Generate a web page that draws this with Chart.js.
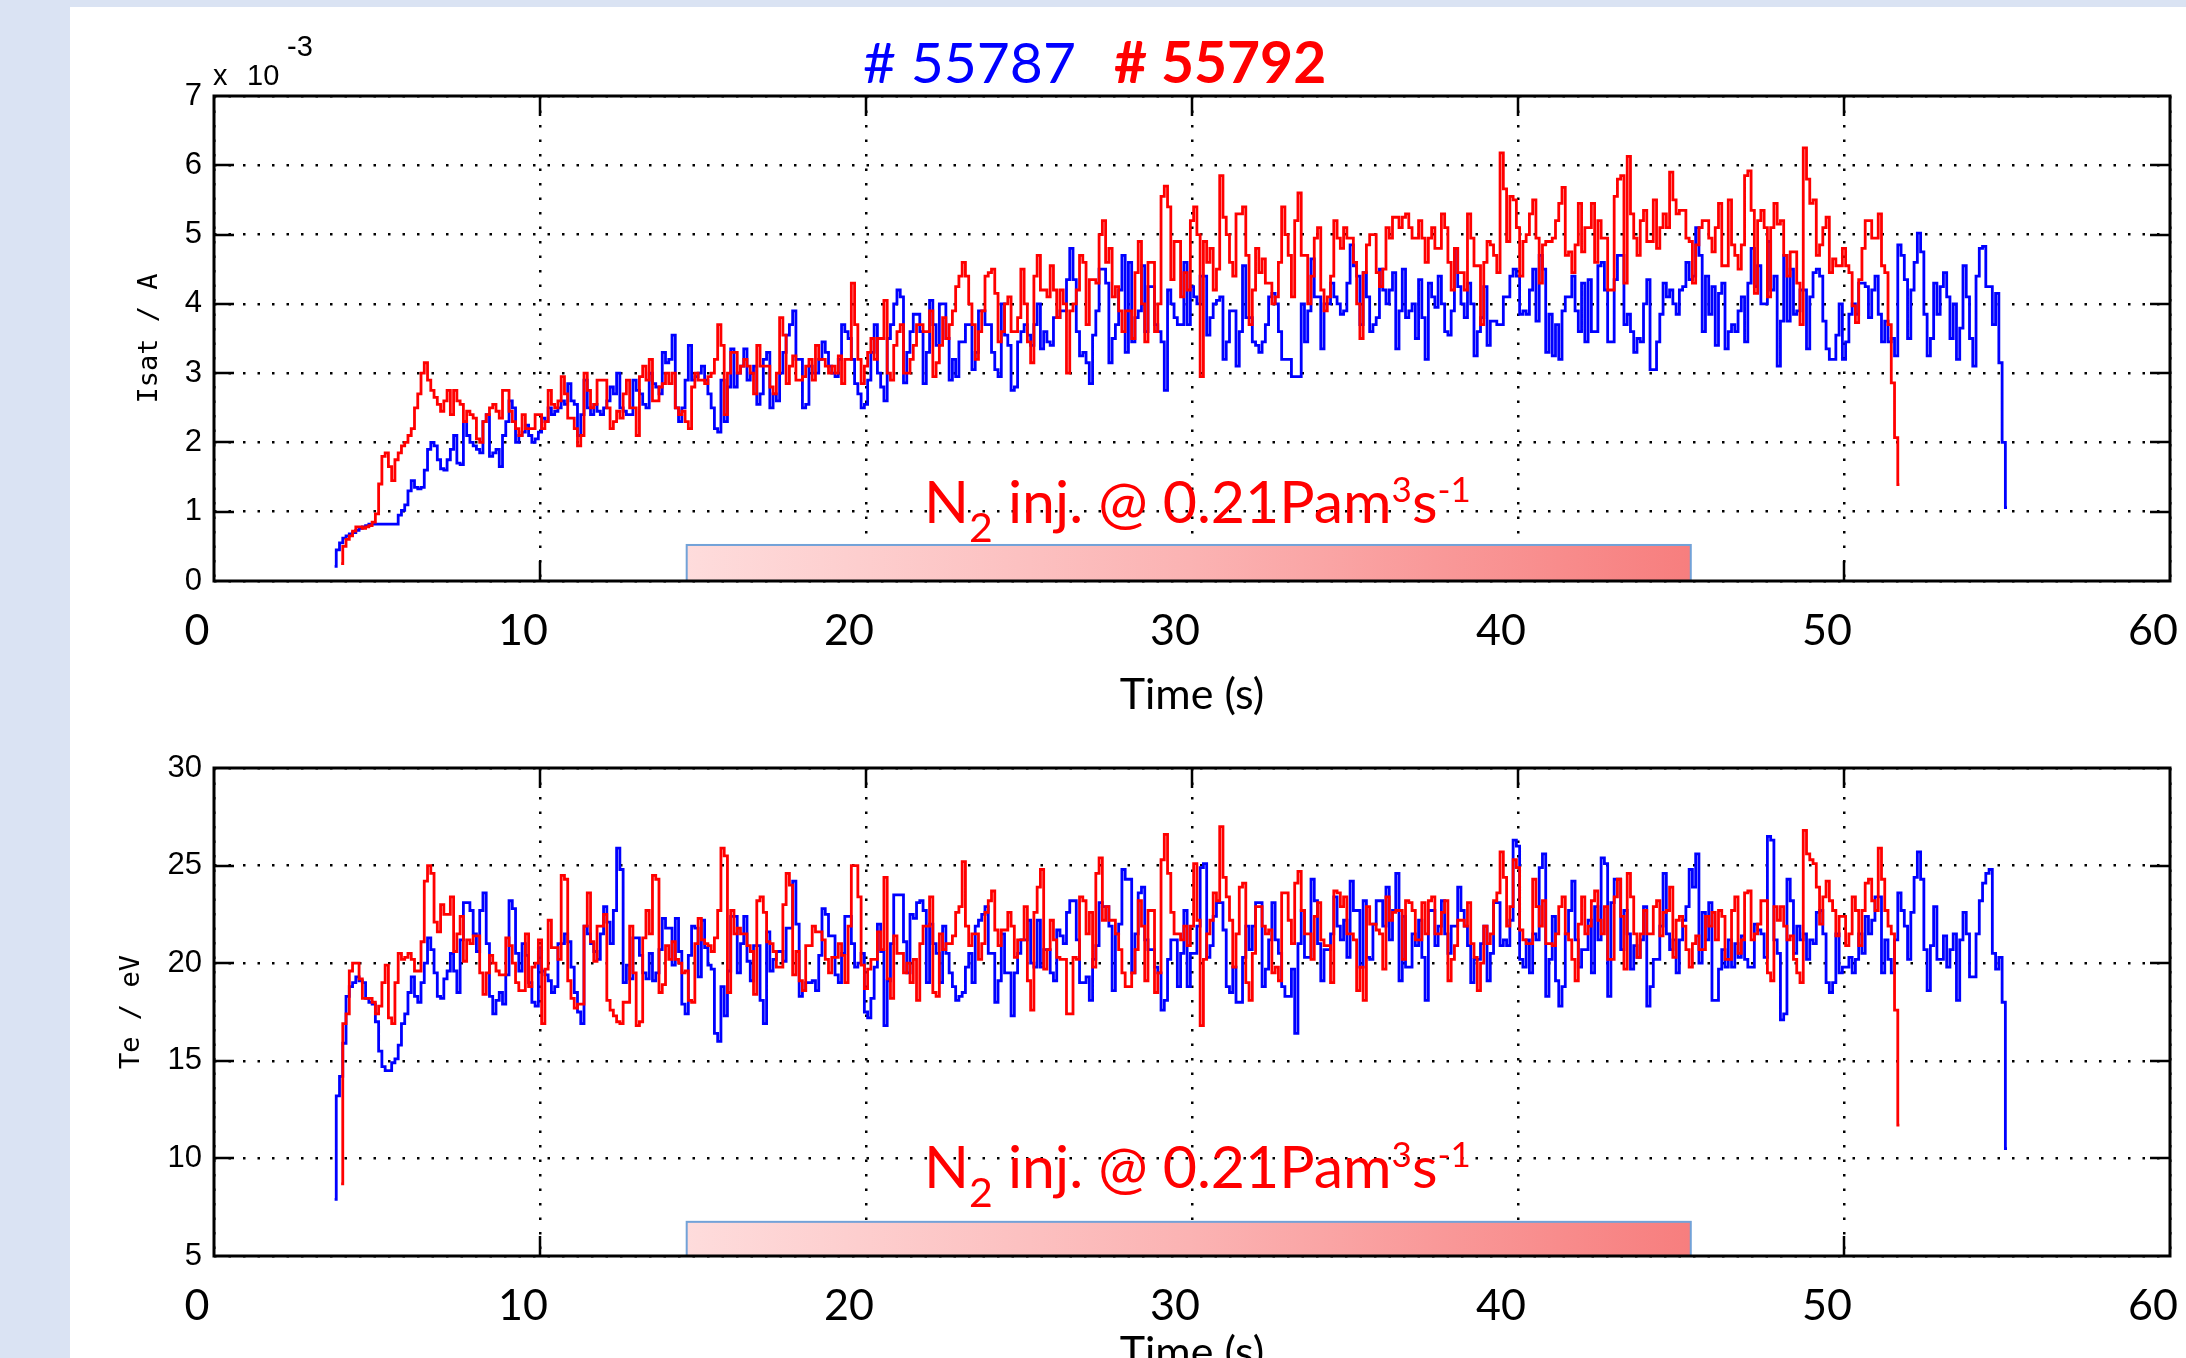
<!DOCTYPE html>
<html>
<head>
<meta charset="utf-8">
<title>Isat and Te, shots 55787 / 55792</title>
<script src="https://cdn.jsdelivr.net/npm/chart.js@4.4.1/dist/chart.umd.min.js"></script>
<style>
  html, body { margin:0; padding:0; width:2186px; height:1358px; overflow:hidden; background:#dae3f3; }
  #panel { position:absolute; left:70px; top:7px; width:2116px; height:1351px; background:#ffffff; }
  canvas { position:absolute; left:0; }
  #cA { top:0; width:2186px; height:740px; }
  #cB { top:672px; width:2186px; height:740px; }
  .ppt { position:absolute; font-family:Lato, "Open Sans", sans-serif; line-height:1; white-space:nowrap; z-index:5; }
  .title { top:33px; font-size:57px; }
  .bold { font-weight:700; }
  .ann { left:924px; font-size:59px; color:#ff0000; }
  .ann .sub { font-size:41px; vertical-align:-19px; line-height:0; }
  .ann .sup { font-size:35px; vertical-align:21px; line-height:0; }
</style>
</head>
<body>
<div id="panel"></div>
<canvas id="cA" width="2186" height="740"></canvas>
<canvas id="cB" width="2186" height="740"></canvas>
<div class="ppt title" style="left:863px;color:#0000ff"># 55787</div>
<div class="ppt title bold" style="left:1114px;color:#ff0000"># 55792</div>
<div class="ppt ann" style="top:471px">N<span class="sub">2</span> inj. @ 0.21Pam<span class="sup">3</span>s<span class="sup">-1</span></div>
<div class="ppt ann" style="top:1136px">N<span class="sub">2</span> inj. @ 0.21Pam<span class="sup">3</span>s<span class="sup">-1</span></div>
<script>
// ---- sampling ----
const DT = 0.1;          // s between samples
const T0_BLUE = 3.7;     // first sample of shot #55787 (s)
const T0_RED = 3.9;      // first sample of shot #55792 (s)

// ---- tick labels ----
const X_TICKS = [0, 10, 20, 30, 40, 50, 60];
const ISAT_TICKS = [0, 1, 2, 3, 4, 5, 6, 7];
const TE_TICKS = [5, 10, 15, 20, 25, 30];

// ---- N2 injection window (s) and bar heights (axis units) ----
const N2_START = 14.5;
const N2_END = 45.3;
const ISAT_BAR_TOP = 0.52;
const TE_BAR_TOP = 6.75;

// ---- Isat (x 1e-3 A), shot #55787 (blue) ----
const isatBlue = [
0.21,0.45,0.55,
0.62,0.65,0.68,0.70,0.73,0.76,0.78,0.80,0.82,0.82,
0.82,0.82,0.82,0.82,0.82,0.82,0.82,0.95,1.02,1.10,
1.30,1.45,1.35,1.33,1.35,1.60,1.90,2.00,1.95,1.75,
1.62,1.60,1.75,1.90,2.10,1.70,1.68,2.30,2.10,2.00,
1.95,1.90,1.85,2.30,2.40,1.80,1.85,1.90,1.65,2.10,
2.30,2.60,2.50,2.00,2.10,2.15,2.25,2.10,2.00,2.05,
2.15,2.35,2.30,2.50,2.40,2.45,2.50,2.60,2.55,2.85,
2.60,2.55,2.10,2.40,2.90,2.50,2.40,2.55,2.45,2.40,
2.50,2.60,2.80,2.70,3.00,2.50,2.45,2.40,2.40,2.90,
2.75,2.70,2.55,2.50,3.00,2.85,2.80,2.70,3.30,3.15,
3.20,3.55,2.50,2.30,2.50,2.90,3.40,2.90,2.95,3.00,
3.10,2.90,2.70,2.50,2.20,2.15,2.90,2.30,2.80,3.35,
2.80,3.00,3.10,3.35,2.90,3.00,3.10,2.55,2.70,3.20,
3.30,2.50,2.70,2.60,3.00,3.30,3.55,3.70,3.90,3.20,
3.20,2.50,2.55,3.10,3.00,3.00,3.20,3.45,3.30,3.10,
3.00,2.95,3.20,3.70,3.60,3.50,3.20,2.85,2.70,2.50,
2.55,2.90,3.30,3.70,3.00,2.80,2.60,3.50,3.70,4.00,
4.20,4.10,2.86,3.30,3.60,3.85,3.85,3.60,2.85,3.30,
4.05,3.70,3.40,4.00,4.00,3.50,2.90,3.20,2.95,3.45,
3.45,3.70,3.70,3.05,3.30,3.90,3.90,3.70,3.70,3.30,
3.05,2.95,4.00,3.55,3.40,2.75,2.80,3.45,3.60,3.70,
3.55,3.40,3.70,4.00,3.35,3.60,3.45,3.40,3.80,3.80,
3.90,3.90,4.35,4.80,4.35,3.60,3.25,3.30,3.15,2.85,
3.55,3.90,4.50,4.50,4.30,3.15,3.50,3.70,4.20,4.70,
3.30,4.60,3.45,3.80,3.90,4.55,3.60,4.25,4.25,3.70,
3.60,3.45,2.75,4.20,4.00,3.80,3.70,3.70,4.60,3.70,
4.25,4.10,4.00,4.40,4.40,3.55,3.80,4.00,4.05,4.10,
3.20,3.45,3.90,3.90,3.10,3.60,4.55,3.80,3.80,3.45,
3.40,3.30,3.45,3.70,4.10,4.15,4.00,3.60,3.20,3.20,
3.20,2.95,2.95,2.95,4.00,3.45,3.90,4.65,4.10,4.10,
3.35,4.00,4.00,4.30,4.10,4.00,3.85,3.90,4.30,4.85,
4.55,4.40,3.70,4.45,4.10,3.60,3.70,3.80,4.50,4.20,
4.00,4.20,4.45,3.35,3.90,4.50,3.80,3.90,4.00,3.50,
4.35,3.80,3.20,4.30,4.10,3.95,4.40,4.00,3.60,3.55,
3.90,4.80,4.25,4.00,3.80,4.30,4.00,3.25,3.60,3.80,
4.25,3.40,3.75,3.75,3.70,3.70,4.10,4.10,4.40,4.50,
4.40,3.85,3.90,3.85,4.20,4.50,3.75,4.70,4.50,3.30,
3.85,3.25,3.70,3.20,3.90,4.10,4.10,4.40,3.90,3.60,
4.30,3.45,4.35,3.60,3.60,4.55,4.60,4.20,3.45,3.45,
4.35,4.70,4.70,3.70,3.85,3.60,3.30,3.50,3.45,4.00,
4.35,3.05,3.05,3.45,3.85,4.30,4.10,4.20,4.00,3.85,
4.20,4.25,4.60,4.35,4.40,5.10,4.70,3.60,4.40,3.85,
4.25,3.40,4.15,4.30,3.35,3.60,3.70,3.60,3.90,4.10,
3.45,4.30,4.80,4.25,4.55,4.00,4.00,4.90,4.20,4.40,
3.10,3.75,4.70,3.75,4.50,3.85,3.90,4.20,4.20,3.35,
4.10,4.45,4.50,4.40,3.75,3.35,3.20,3.20,3.55,4.00,
3.20,3.45,3.85,4.00,3.85,4.30,4.30,4.25,3.80,4.20,
4.40,3.85,3.45,3.75,3.45,3.50,3.25,4.85,4.70,4.35,
3.50,4.20,4.60,5.02,4.75,3.85,3.25,3.50,4.30,3.85,
4.25,4.45,4.10,3.50,4.00,3.20,3.65,4.55,4.10,3.50,
3.10,4.40,4.80,4.83,4.25,4.25,3.70,4.15,3.15,2.00,
1.06
];

// ---- Isat (x 1e-3 A), shot #55792 (red) ----
const isatRed = [
0.25,
0.50,0.60,0.65,0.72,0.78,0.78,0.76,0.78,0.80,0.85,
0.97,1.40,1.80,1.85,1.65,1.45,1.75,1.85,1.95,2.00,
2.10,2.20,2.50,2.70,3.00,3.15,2.90,2.75,2.65,2.55,
2.45,2.60,2.75,2.40,2.75,2.60,2.55,2.30,2.45,2.40,
2.35,2.05,2.00,2.30,2.40,2.50,2.55,2.45,2.35,2.75,
2.75,2.45,2.30,2.20,2.10,2.40,2.20,2.20,2.20,2.40,
2.40,2.20,2.30,2.75,2.55,2.50,2.60,2.95,2.70,2.35,
2.35,2.20,1.95,2.10,3.00,2.75,2.50,2.55,2.90,2.90,
2.90,2.50,2.20,2.30,2.45,2.35,2.70,2.90,2.50,2.50,
2.10,2.95,3.10,2.90,3.20,2.60,2.60,2.80,2.85,3.00,
2.85,3.00,2.50,2.40,2.45,2.30,2.20,2.80,3.00,2.90,
2.90,2.85,2.95,3.00,3.20,3.70,3.40,2.40,3.00,3.30,
3.30,3.00,3.10,3.20,3.10,3.00,2.70,3.40,3.10,3.10,
3.10,2.80,2.70,3.00,3.80,3.55,2.85,3.10,3.25,2.90,
2.90,2.95,3.10,3.20,2.90,3.40,3.20,3.20,3.10,3.00,
3.10,3.00,3.25,2.85,3.20,3.20,4.30,3.70,3.20,2.85,
3.10,3.30,3.50,3.20,3.50,3.50,4.05,3.00,2.90,3.40,
3.60,3.70,3.00,3.00,3.20,3.40,3.70,3.70,3.60,3.60,
3.90,2.95,3.15,3.40,3.80,3.50,3.70,3.90,4.25,4.40,
4.60,4.40,4.00,3.70,3.20,3.60,3.90,4.40,4.45,4.50,
4.15,3.45,3.60,4.00,4.10,3.60,3.60,3.80,4.50,4.00,
3.45,3.15,4.40,4.70,4.20,4.20,4.10,4.55,4.20,3.80,
4.20,4.00,3.00,3.90,4.00,4.20,4.70,4.60,3.70,4.35,
4.35,4.30,5.00,5.20,4.60,4.80,4.10,4.25,3.90,3.60,
3.90,3.90,3.50,4.45,4.90,4.00,3.45,4.60,4.60,3.60,
4.00,5.55,5.70,5.40,4.35,4.90,4.90,4.10,4.45,4.20,
5.20,5.40,5.00,2.95,4.90,4.60,4.80,4.20,4.50,5.85,
5.25,5.00,4.60,4.40,5.30,5.30,5.40,4.70,3.70,4.20,
4.80,4.45,4.65,4.30,4.30,4.00,4.10,4.60,5.40,5.00,
4.70,4.10,5.20,5.60,4.70,4.70,4.00,4.40,4.95,5.10,
4.20,3.90,4.10,4.40,5.20,4.95,4.80,5.10,4.95,4.95,
4.60,4.00,3.50,4.45,4.85,5.00,5.00,4.45,4.25,4.50,
5.10,4.95,5.25,5.25,5.10,5.25,5.30,5.10,4.95,4.95,
5.20,4.95,4.60,4.95,5.10,4.80,4.80,5.30,5.10,4.60,
4.20,4.80,4.45,4.45,4.20,5.30,4.95,4.55,4.55,3.70,
4.60,4.90,4.85,4.70,4.45,6.18,5.66,4.90,5.55,5.50,
5.10,4.40,4.90,5.00,5.30,5.50,4.95,4.30,4.85,4.90,
4.90,4.95,5.20,5.45,5.68,4.70,4.75,4.45,4.85,5.45,
4.75,5.10,5.10,5.45,4.60,5.20,4.95,4.95,4.20,4.20,
5.55,5.80,5.85,4.30,6.13,5.30,4.95,4.70,5.20,5.35,
4.90,4.90,5.50,4.80,5.10,5.30,5.10,5.90,5.50,5.30,
5.35,5.35,4.95,4.90,4.30,4.85,5.10,5.20,5.20,4.95,
4.75,5.10,5.45,4.55,4.55,5.50,4.85,4.70,4.50,4.85,
5.85,5.92,5.35,4.15,5.20,5.35,5.10,4.10,5.10,5.45,
5.15,5.20,4.70,4.40,4.75,4.75,4.30,3.70,6.25,5.80,
5.45,5.50,4.70,4.85,5.10,5.25,4.45,4.65,4.55,4.55,
4.80,4.55,4.45,3.97,3.73,4.35,4.80,5.20,5.20,4.95,
4.95,5.30,4.55,4.45,3.70,2.86,2.07,1.39
];

// ---- Te (eV), shot #55787 (blue) ----
const teBlue = [
7.9,13.2,14.2,
15.9,18.3,18.8,19.0,19.3,19.1,19.0,18.2,18.0,17.9,
17.0,15.5,14.7,14.5,14.5,14.9,15.1,15.8,16.9,17.4,
18.5,19.3,18.3,18.0,19.0,20.0,21.3,20.7,19.5,18.3,
18.2,19.2,19.6,20.5,19.6,18.5,21.2,23.1,23.1,22.7,
21.5,20.6,22.7,23.6,21.0,18.3,17.4,18.1,18.5,17.9,
19.4,23.2,22.8,20.5,19.6,21.0,20.4,19.0,18.0,17.8,
20.8,19.6,19.4,19.1,18.5,18.8,21.0,21.0,21.5,21.1,
19.8,18.5,17.5,16.9,21.9,21.5,21.0,20.6,20.2,21.5,
22.9,22.1,21.0,22.7,25.9,24.8,19.0,19.9,19.2,21.3,
21.3,20.4,19.5,19.2,20.5,19.1,19.5,20.7,22.3,21.8,
21.8,19.9,22.3,20.6,17.9,17.4,20.4,21.9,21.8,19.3,
22.2,20.8,19.9,19.7,16.4,16.0,18.8,17.3,19.6,22.4,
22.4,19.5,21.0,22.4,20.1,19.1,20.9,20.9,18.1,16.9,
21.6,19.6,20.2,20.6,20.6,20.1,21.8,21.8,24.2,22.0,
18.3,18.6,19.0,19.0,19.1,18.6,20.4,22.8,22.5,21.4,
21.4,19.4,19.0,20.5,22.4,22.4,21.0,19.8,20.0,20.5,
17.5,17.2,18.2,19.8,22.0,20.6,16.8,19.1,21.0,23.5,
23.5,23.5,21.1,19.5,22.5,22.3,23.1,23.2,22.7,19.0,
22.0,21.0,20.5,19.0,21.9,20.5,19.5,18.8,18.1,18.3,
18.5,19.8,20.5,19.0,21.9,22.2,22.5,22.9,20.5,20.5,
18.0,19.1,21.5,19.5,19.5,17.3,19.5,20.5,21.2,21.2,
22.2,20.0,19.8,22.2,19.8,20.7,20.7,19.5,19.1,21.7,
21.4,21.0,22.6,23.2,23.2,21.2,19.0,19.0,19.3,18.1,
20.2,20.9,23.1,22.9,22.9,21.9,18.6,21.5,22.0,24.8,
24.3,24.3,19.5,21.5,23.6,23.9,21.2,20.7,20.7,19.8,
19.5,17.6,18.1,20.2,21.2,21.2,18.8,20.5,22.7,18.8,
20.5,20.5,21.9,24.9,25.1,20.3,20.9,22.4,23.1,23.1,
21.7,18.8,18.5,19.8,18.0,18.0,20.3,21.9,20.7,21.9,
23.1,23.1,18.8,19.7,21.2,23.1,21.2,20.5,18.8,18.3,
18.3,19.7,16.4,21.0,22.7,20.3,20.3,24.3,23.2,21.0,
19.1,20.7,20.7,21.5,23.4,21.9,21.2,22.2,20.3,24.2,
22.7,22.7,19.8,23.2,20.3,20.2,22.0,23.2,23.2,21.9,
23.9,21.2,22.7,24.6,19.1,22.4,19.8,19.8,21.5,20.9,
22.2,20.3,18.1,22.7,22.7,20.9,21.9,23.2,21.5,20.5,
21.9,21.9,23.9,22.7,21.9,20.9,19.0,20.2,20.2,21.0,
21.9,19.1,20.5,23.1,23.1,20.9,21.2,20.9,22.2,26.3,
26.0,20.2,19.8,21.2,19.5,21.5,21.2,24.9,25.6,18.3,
20.2,22.4,19.1,17.8,18.8,21.5,22.7,24.2,21.2,19.8,
20.7,20.7,22.2,19.5,22.9,21.2,25.4,25.1,18.3,23.1,
24.3,24.3,20.7,22.7,21.5,19.7,20.9,20.3,21.2,22.9,
17.8,18.8,20.2,20.2,21.9,24.6,21.5,20.7,21.2,19.5,
21.2,22.2,22.9,24.8,23.9,25.6,20.0,22.6,21.2,23.1,
18.1,18.1,19.7,20.7,19.8,21.2,19.8,21.0,20.3,21.4,
20.2,19.8,19.8,22.0,21.7,21.5,20.3,26.5,26.3,21.2,
20.5,17.1,17.4,24.3,23.2,20.5,21.9,21.2,21.5,20.2,
21.2,21.0,22.6,22.7,21.5,19.0,18.5,19.0,21.5,19.5,
19.8,19.8,20.3,19.5,20.2,21.5,20.5,22.4,21.5,22.2,
23.4,23.4,19.5,21.2,20.2,19.5,21.2,23.6,22.7,21.9,
20.2,22.6,24.4,25.7,24.3,20.7,18.6,20.9,22.9,20.2,
20.2,21.4,19.8,20.7,21.5,18.1,21.2,22.6,21.5,19.3,
19.3,21.5,23.2,24.1,24.6,24.8,20.5,19.7,20.3,18.0,
10.5
];

// ---- Te (eV), shot #55792 (red) ----
const teRed = [
8.7,
16.9,17.4,19.6,20.0,20.0,19.2,18.2,18.2,18.2,18.0,
17.4,17.8,19.0,19.9,17.2,16.9,19.0,20.5,20.2,20.3,
20.5,20.2,19.6,19.6,21.1,24.2,25.0,24.6,22.1,21.6,
23.0,22.5,22.5,23.4,20.6,21.5,22.4,20.1,21.2,21.0,
21.4,21.4,19.5,18.4,19.5,20.4,20.0,19.6,19.4,19.4,
21.3,20.9,20.0,19.0,18.6,18.6,21.5,18.8,19.8,20.0,
21.2,16.9,19.7,22.2,20.8,20.8,20.2,24.5,24.3,19.1,
18.2,17.7,17.9,17.9,21.9,23.6,21.1,20.1,21.9,21.9,
22.5,18.1,17.6,17.3,17.0,16.9,18.0,18.0,21.9,19.5,
16.8,17.0,21.3,22.7,21.5,24.5,24.3,18.5,18.9,20.9,
20.2,21.1,20.2,20.0,19.5,19.6,18.1,18.0,21.0,22.3,
21.2,21.0,20.9,20.6,21.3,22.7,25.9,25.5,18.5,22.7,
21.5,21.8,21.5,21.5,20.9,20.6,18.4,23.2,23.4,22.6,
21.1,21.0,20.6,19.8,19.8,23.0,24.6,24.0,19.4,20.6,
19.1,18.6,20.9,20.9,21.9,21.6,21.6,21.2,20.2,19.5,
20.3,20.3,21.0,20.4,19.0,21.9,25.0,25.0,23.4,19.9,
18.7,19.7,20.2,20.2,21.6,20.7,24.4,19.2,18.2,21.4,
20.5,20.5,19.5,20.0,19.0,20.2,18.1,21.0,21.9,21.9,
23.4,18.5,18.3,21.5,20.7,21.0,21.0,21.4,22.6,22.9,
25.2,21.9,20.9,21.5,21.5,20.2,21.0,22.6,23.2,23.7,
21.7,20.9,21.7,21.7,22.6,21.9,20.3,21.2,21.2,22.9,
19.1,17.6,22.6,23.9,24.8,19.7,20.7,22.2,21.2,20.3,
20.2,20.2,17.4,17.4,20.3,20.2,23.4,23.2,21.5,22.6,
19.8,24.6,25.4,22.2,22.9,22.2,22.2,21.5,20.7,19.5,
18.8,18.8,19.5,20.7,23.2,21.9,19.1,22.7,22.7,18.5,
19.5,25.3,26.6,24.6,22.6,21.5,21.5,21.2,21.9,20.9,
21.9,25.1,22.2,16.8,20.2,21.5,22.2,23.6,23.2,27.0,
24.4,23.4,22.2,19.8,21.5,23.9,24.1,19.0,18.1,20.5,
22.9,22.9,21.9,21.5,21.7,19.5,19.8,19.1,23.6,23.6,
22.2,21.0,24.1,24.7,22.7,21.5,21.5,20.2,22.4,23.1,
21.2,20.9,20.9,19.0,23.7,23.6,22.9,23.4,21.5,21.5,
21.2,18.6,19.8,18.1,22.9,22.0,22.0,21.7,21.5,19.7,
23.4,22.2,22.6,22.7,22.7,20.2,23.2,23.1,22.7,21.2,
21.2,23.1,21.5,23.2,23.4,21.5,21.5,22.6,23.2,19.1,
20.2,20.9,22.2,22.2,21.9,23.1,21.0,20.3,18.6,20.0,
21.9,21.0,21.5,23.2,23.6,25.7,24.4,21.9,22.9,25.3,
24.9,21.7,21.2,21.0,21.0,24.3,22.9,21.9,23.2,21.0,
21.0,20.9,21.5,22.9,23.4,21.5,21.2,20.2,19.1,22.0,
23.4,21.5,21.9,23.2,23.7,22.2,21.5,22.9,20.2,20.2,
23.4,24.3,22.4,19.7,24.6,23.4,21.5,20.3,21.5,22.7,
21.5,21.5,22.9,23.2,21.4,22.6,22.7,23.9,20.3,22.2,
22.4,21.9,20.7,19.8,21.0,21.4,20.7,20.7,22.4,21.9,
22.6,21.2,22.7,22.4,20.2,20.2,22.7,23.4,20.5,21.2,
23.6,23.7,21.2,21.5,22.0,23.2,23.2,19.5,19.1,22.9,
22.2,22.9,21.9,21.2,21.4,20.2,19.5,19.0,26.8,25.6,
25.3,25.1,23.9,22.0,23.4,24.2,23.2,22.7,21.4,22.4,
22.4,20.9,21.5,23.4,22.7,20.9,22.7,24.1,24.3,23.2,
22.7,25.9,24.3,22.7,21.9,21.5,17.6,11.7
];

// ---- helpers ----
function series(t0, values) {
  return values.map((v, i) => ({ x: Math.round((t0 + i * DT) * 100) / 100, y: v }));
}

const TICK_LEN = 20;

const matlabFrame = {
  id: 'matlabFrame',
  beforeDatasetsDraw(chart, args, o) {
    const { ctx, chartArea: a, scales: { x, y } } = chart;
    ctx.save();
    // inner tick marks (MATLAB style, pointing into the axes)
    ctx.strokeStyle = '#000';
    ctx.lineWidth = 2.5;
    ctx.beginPath();
    x.ticks.forEach(t => {
      if (t.value <= x.min || t.value >= x.max) return;
      const p = Math.round(x.getPixelForValue(t.value));
      ctx.moveTo(p, a.bottom); ctx.lineTo(p, a.bottom - TICK_LEN);
      ctx.moveTo(p, a.top); ctx.lineTo(p, a.top + TICK_LEN);
    });
    y.ticks.forEach(t => {
      if (t.value <= y.min || t.value >= y.max) return;
      const p = Math.round(y.getPixelForValue(t.value));
      ctx.moveTo(a.left, p); ctx.lineTo(a.left + TICK_LEN, p);
      ctx.moveTo(a.right, p); ctx.lineTo(a.right - TICK_LEN, p);
    });
    ctx.stroke();
    // N2 injection bar
    const x0 = x.getPixelForValue(N2_START), x1 = x.getPixelForValue(N2_END);
    const yt = y.getPixelForValue(o.barTop), yb = y.getPixelForValue(y.min);
    const g = ctx.createLinearGradient(x0, 0, x1, 0);
    g.addColorStop(0, '#fedcdc');
    g.addColorStop(0.5, '#fbb3b3');
    g.addColorStop(1, '#f77e7e');
    ctx.fillStyle = g;
    ctx.fillRect(x0, yt, x1 - x0, yb - yt);
    ctx.strokeStyle = '#72a2d8';
    ctx.lineWidth = 2;
    ctx.strokeRect(x0, yt, x1 - x0, yb - yt);
    ctx.restore();
  },
  afterDraw(chart, args, o) {
    const { ctx, chartArea: a } = chart;
    ctx.save();
    ctx.strokeStyle = '#000';
    ctx.lineWidth = 3;
    ctx.strokeRect(a.left, a.top, a.right - a.left, a.bottom - a.top);
    if (o.exponent) {
      ctx.fillStyle = '#000';
      ctx.textBaseline = 'alphabetic';
      ctx.textAlign = 'left';
      ctx.font = '29px "Liberation Sans", Arial, sans-serif';
      ctx.fillText('x', a.left - 1, a.top - 11);
      ctx.fillText('10', a.left + 33, a.top - 11);
      ctx.fillText('-3', a.left + 73, a.top - 40);
    }
    ctx.restore();
  }
};

function makeChart(id, cfg) {
  return new Chart(document.getElementById(id), {
    type: 'line',
    data: {
      datasets: [
        { label: '# 55792', data: series(T0_RED, cfg.red), borderColor: '#ff0000', borderWidth: 2.8,
          pointRadius: 0, stepped: 'middle', fill: false, borderJoinStyle: 'miter' },
        { label: '# 55787', data: series(T0_BLUE, cfg.blue), borderColor: '#0000ff', borderWidth: 2.8,
          pointRadius: 0, stepped: 'middle', fill: false, borderJoinStyle: 'miter' }
      ]
    },
    options: {
      responsive: false,
      animation: false,
      events: [],
      parsing: false,
      layout: { autoPadding: false, padding: { left: 0, top: 96, right: 16, bottom: 0 } },
      plugins: {
        legend: { display: false },
        tooltip: { enabled: false },
        matlabFrame: { barTop: cfg.barTop, exponent: cfg.exponent }
      },
      scales: {
        x: {
          type: 'linear', min: 0, max: 60,
          afterBuildTicks: s => { s.ticks = X_TICKS.map(v => ({ value: v })); },
          afterFit: s => { s.height = cfg.xHeight; s.paddingLeft = 0; s.paddingRight = 0; },
          grid: { color: '#000', lineWidth: 2.5, drawTicks: false },
          border: { display: false, dash: [2.5, 12] },
          ticks: { color: '#000', font: { family: 'Lato', size: 43 }, padding: 24, labelOffset: -17,
                   maxRotation: 0, minRotation: 0, autoSkip: false },
          title: { display: true, text: 'Time (s)', color: '#000', font: { family: 'Lato', size: 43 },
                   padding: { top: 0, bottom: cfg.xTitlePad } }
        },
        y: {
          type: 'linear', min: cfg.yMin, max: cfg.yMax,
          afterBuildTicks: s => { s.ticks = cfg.yTicks.map(v => ({ value: v })); },
          afterFit: s => { s.width = 214; s.paddingTop = 0; s.paddingBottom = 0; },
          grid: { color: '#000', lineWidth: 2.5, drawTicks: false },
          border: { display: false, dash: [2.5, 12] },
          ticks: { color: '#000', font: { family: 'Liberation Sans', size: 31 }, padding: 12, autoSkip: false },
          title: { display: true, text: cfg.yTitle, color: '#000', font: { family: 'DejaVu Sans Mono', size: 27 },
                   padding: { top: cfg.yTitlePad, bottom: 0 } }
        }
      }
    },
    plugins: [matlabFrame]
  });
}

makeChart('cA', {
  red: isatRed, blue: isatBlue, yMin: 0, yMax: 7, yTicks: ISAT_TICKS, yTitle: 'Isat / A',
  barTop: ISAT_BAR_TOP, exponent: true, xHeight: 740 - 581, xTitlePad: 19, yTitlePad: 134
});
makeChart('cB', {
  red: teRed, blue: teBlue, yMin: 5, yMax: 30, yTicks: TE_TICKS, yTitle: 'Te / eV',
  barTop: TE_BAR_TOP, exponent: false, xHeight: 740 - 584, xTitlePad: 33, yTitlePad: 116
});
</script>
</body>
</html>
